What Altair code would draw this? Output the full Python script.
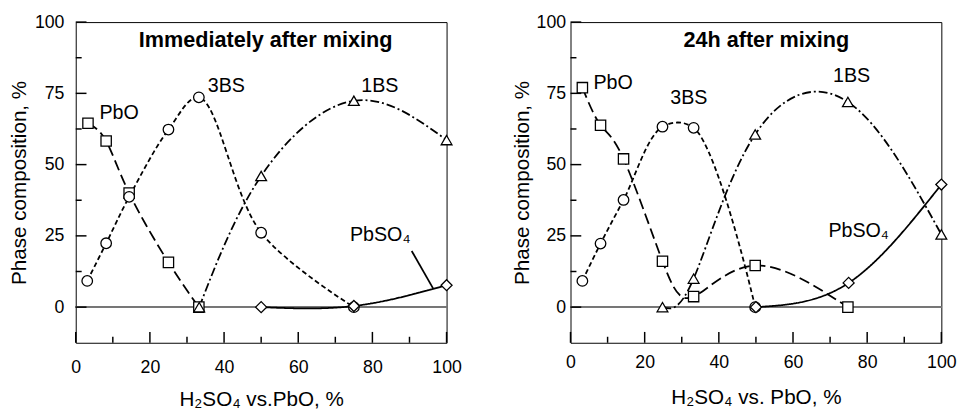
import altair as alt
import pandas as pd

# ---------------- data ----------------
SERIES = ["PbO", "3BS", "1BS", "PbSO4"]
SHAPES = ["square", "circle", "triangle-up", "diamond"]
DASHES = [[11, 5], [5, 3], [9, 3, 2, 3], [1, 0]]
SIZES = [110, 125, 170, 150]

X_TICKS = [0, 20, 40, 60, 80, 100]
X_MINOR = [10, 30, 50, 70, 90]
Y_TICKS = [0, 25, 50, 75, 100]
Y_MINOR = [12.5, 37.5, 62.5, 87.5]

# Left panel: immediately after mixing
L_PBO_X = [3.3, 8.2, 14.4, 25, 33.2]
L_PBO_Y = [64.5, 58.3, 40, 15.7, 0]
L_3BS_X = [3.1, 8.2, 14.4, 25, 33.2, 50, 75]
L_3BS_Y = [9.2, 22.4, 38.7, 62.3, 73.6, 26.1, 0]
L_1BS_X = [33.3, 50, 75, 100]
L_1BS_Y = [0, 46, 72.4, 58.6]
L_PBSO4_X = [50, 75, 100]
L_PBSO4_Y = [0, 0.4, 7.7]
L_INTERP = ["natural", "catmull-rom", "natural", "natural"]

# Right panel: 24h after mixing
R_PBO_X = [3.2, 8.1, 14.3, 24.8, 33.2, 49.8, 74.8]
R_PBO_Y = [77, 63.8, 52, 16.1, 3.7, 14.6, 0]
R_3BS_X = [3.2, 8.1, 14.3, 24.8, 33.2, 49.8]
R_3BS_Y = [9.2, 22.3, 37.6, 63.3, 62.9, 0]
R_1BS_X = [24.8, 33.2, 49.8, 74.8, 100]
R_1BS_Y = [0, 10, 60.6, 72, 25.5]
R_PBSO4_X = [50, 75, 100]
R_PBSO4_Y = [0, 8.5, 43]
R_INTERP = ["natural", "catmull-rom", "natural", "natural"]

LABEL_TEXT = ["PbO", "3BS", "1BS", "PbSO₄"]
L_LABEL_X = [11.7, 40.6, 82, 82.1]
L_LABEL_Y = [68, 77.6, 77.6, 25.3]
R_LABEL_X = [11.5, 31.9, 75.8, 77.7]
R_LABEL_Y = [78.7, 73.5, 80.9, 26.6]

L_TITLE = "Immediately after mixing"
R_TITLE = "24h after mixing"
L_TITLE_X, L_TITLE_Y = 51.2, 93.8
R_TITLE_X, R_TITLE_Y = 52.8, 93.8

L_LEADER_X = [90.6, 96.4]
L_LEADER_Y = [19.7, 6.5]

FONT = "Liberation Sans"
X_MIN, Y_MIN = 0, -12.5
# inward tick lengths expressed in axis units (major, minor)
TICK_LEN_Y = (3.8, 2.1)   # for ticks on the bottom edge
TICK_LEN_X = (2.9, 1.6)   # for ticks on the left edge


def points_frame(xs_list, ys_list):
    rows = []
    for name, xs, ys in zip(SERIES, xs_list, ys_list):
        for i, (xv, yv) in enumerate(zip(xs, ys)):
            rows.append({"series": name, "x": xv, "y": yv, "idx": i})
    return pd.DataFrame(rows)


def panel(df, interp, lab_x, lab_y, title, tx, ty, xtitle, leader,
          ylab_pad, ytitle_pad, xlab_pad, xtitle_pad):
    xs = alt.Scale(domain=[0, 100], nice=False, zero=False)
    ys = alt.Scale(domain=[-12.5, 100], nice=False, zero=False)
    common = dict(ticks=True, domain=False, grid=False, tickColor="transparent")
    x_axis = alt.Axis(values=X_TICKS, tickSize=11, offset=-11,
                      labelFlush=False, labelPadding=xlab_pad, title=xtitle,
                      titlePadding=xtitle_pad, orient="bottom", format="d", **common)
    y_axis = alt.Axis(values=Y_TICKS, tickSize=11, offset=-11,
                      labelPadding=ylab_pad, title="Phase composition, %",
                      titlePadding=ytitle_pad, orient="left", format="d", **common)

    def X(field="x"):
        return alt.X(f"{field}:Q", scale=xs, axis=None)

    def Y(field="y"):
        return alt.Y(f"{field}:Q", scale=ys, axis=None)

    base = alt.Chart(df)
    axes_main = base.mark_point(opacity=0).encode(
        x=alt.X("x:Q", scale=xs, axis=x_axis),
        y=alt.Y("y:Q", scale=ys, axis=y_axis))
    zero = base.mark_rule(color="#777777", strokeWidth=1).encode(
        y=alt.datum(0, scale=ys, axis=None))
    layers = [axes_main, zero]

    for name, dash, ip in zip(SERIES, DASHES, interp):
        layers.append(base.transform_filter(alt.datum.series == name).mark_line(
            interpolate=ip, strokeWidth=1.8, color="black", strokeDash=dash).encode(
            x=X(), y=Y(), order="idx:Q"))
    pts = base.mark_point(filled=True, fill="white", stroke="black", strokeWidth=1.3, opacity=1).encode(
        x=X(), y=Y(),
        shape=alt.Shape("series:N", scale=alt.Scale(domain=SERIES, range=SHAPES), legend=None),
        size=alt.Size("series:N", scale=alt.Scale(domain=SERIES, range=SIZES), legend=None),
    )
    layers.append(pts)

    # inward tick marks (major and minor) drawn as rules through the scales
    for vals, length in ((X_TICKS, TICK_LEN_Y[0]), (X_MINOR, TICK_LEN_Y[1])):
        layers.append(alt.Chart(pd.DataFrame({"v": vals})).mark_rule(
            color="black", strokeWidth=1.5).encode(
            x=alt.X("v:Q", scale=xs, axis=None),
            y=alt.datum(Y_MIN, scale=ys, axis=None),
            y2=alt.datum(Y_MIN + length)))
    for vals, length in ((Y_TICKS, TICK_LEN_X[0]), (Y_MINOR, TICK_LEN_X[1])):
        layers.append(alt.Chart(pd.DataFrame({"v": vals})).mark_rule(
            color="black", strokeWidth=1.5).encode(
            y=alt.Y("v:Q", scale=ys, axis=None),
            x=alt.datum(X_MIN, scale=xs, axis=None),
            x2=alt.datum(X_MIN + length)))

    lab_df = pd.DataFrame({"text": LABEL_TEXT, "x": lab_x, "y": lab_y})
    layers.append(alt.Chart(lab_df).mark_text(fontSize=20, font=FONT, color="black").encode(
        x=X(), y=Y(), text="text:N"))
    ttl_df = pd.DataFrame({"text": [title], "x": [tx], "y": [ty]})
    layers.append(alt.Chart(ttl_df).mark_text(fontSize=22, font=FONT, fontWeight="bold", color="black").encode(
        x=X(), y=Y(), text="text:N"))
    if leader is not None:
        ld = pd.DataFrame({"x": [leader[0][0]], "y": [leader[1][0]],
                           "x2": [leader[0][1]], "y2": [leader[1][1]]})
        layers.append(alt.Chart(ld).mark_rule(color="black", strokeWidth=1.8).encode(
            x=X(), y=Y(), x2="x2:Q", y2="y2:Q"))
    return alt.layer(*layers).resolve_axis(x="independent", y="independent").properties(
        width=377, height=326)


left_df = points_frame([L_PBO_X, L_3BS_X, L_1BS_X, L_PBSO4_X], [L_PBO_Y, L_3BS_Y, L_1BS_Y, L_PBSO4_Y])
right_df = points_frame([R_PBO_X, R_3BS_X, R_1BS_X, R_PBSO4_X], [R_PBO_Y, R_3BS_Y, R_1BS_Y, R_PBSO4_Y])

left = panel(left_df, L_INTERP, L_LABEL_X, L_LABEL_Y, L_TITLE, L_TITLE_X, L_TITLE_Y,
             "H₂SO₄ vs.PbO, %", (L_LEADER_X, L_LEADER_Y), 12, 5, 16, 13)
right = panel(right_df, R_INTERP, R_LABEL_X, R_LABEL_Y, R_TITLE, R_TITLE_X, R_TITLE_Y,
              "H₂SO₄ vs. PbO, %", None, 5, 4, 11, 16)

chart = alt.hconcat(left, right, spacing=49).properties(
    padding={"left": 8, "top": 9, "right": 5, "bottom": 2}
).configure(font=FONT).configure_view(stroke="black", strokeWidth=1).configure_axis(
    labelFont=FONT, titleFont=FONT, labelFontSize=18, titleFontSize=21,
    labelColor="black", titleColor="black", titleFontWeight="normal")

chart.save("out.html", embed_options={"renderer": "svg", "actions": False})
